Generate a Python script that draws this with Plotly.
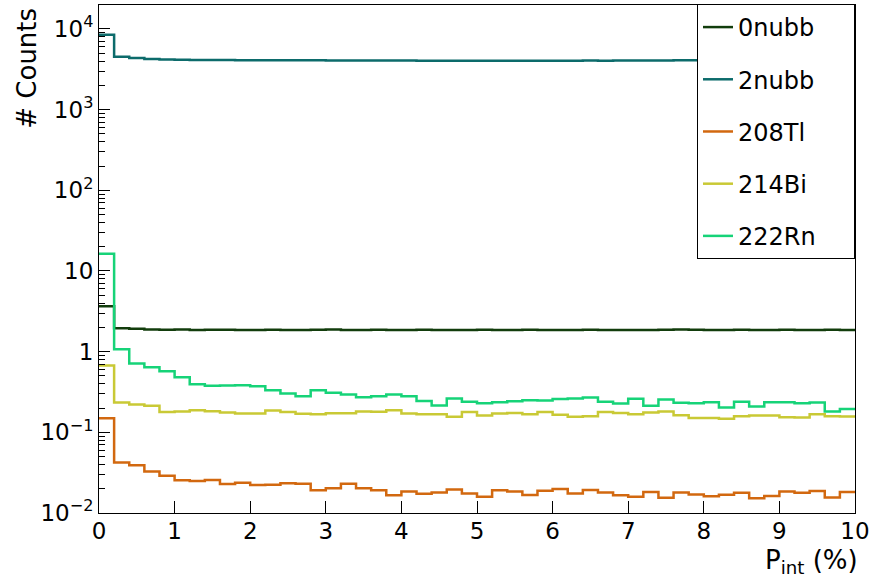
import numpy as np
import plotly.graph_objects as go

# ---- data (50 bins of 0.2 % width, 0-10 %) ----
bin_lo = 0.0
bin_hi = 10.0
n_bins = 50

series_names = ["0nubb", "2nubb", "208Tl", "214Bi", "222Rn"]
series_colors = ["#123d0c", "#0c6b6b", "#d2680f", "#c9c935", "#16d378"]

counts_0nubb = [3.65, 1.95, 1.92, 1.88, 1.87, 1.88, 1.86, 1.87, 1.87, 1.86,
                1.86, 1.87, 1.86, 1.86, 1.87, 1.88, 1.86, 1.86, 1.87, 1.86,
                1.86, 1.87, 1.86, 1.85, 1.86, 1.87, 1.86, 1.86, 1.87, 1.86,
                1.86, 1.86, 1.87, 1.86, 1.86, 1.85, 1.86, 1.87, 1.88, 1.87,
                1.86, 1.86, 1.87, 1.86, 1.86, 1.87, 1.86, 1.86, 1.87, 1.86]
counts_2nubb = [8500, 4530, 4360, 4240, 4180, 4150, 4130, 4120, 4110, 4100,
                4100, 4090, 4090, 4080, 4080, 4070, 4070, 4070, 4060, 4060,
                4060, 4050, 4050, 4050, 4050, 4040, 4040, 4050, 4050, 4040,
                4050, 4050, 4060, 4050, 4060, 4060, 4070, 4070, 4080, 4080,
                4090, 4090, 4100, 4100, 4100, 4110, 4100, 4100, 4090, 4090]
counts_208Tl = [0.149, 0.0424, 0.0392, 0.0328, 0.0290, 0.0254, 0.0249, 0.0256, 0.0229, 0.0237,
                0.0222, 0.0224, 0.0233, 0.0230, 0.0191, 0.0202, 0.0230, 0.0202, 0.0192, 0.0166,
                0.0185, 0.0173, 0.0179, 0.0195, 0.0175, 0.0159, 0.0191, 0.0185, 0.0167, 0.0189,
                0.0198, 0.0175, 0.0193, 0.0179, 0.0166, 0.0159, 0.0182, 0.0155, 0.0180, 0.0170,
                0.0161, 0.0168, 0.0178, 0.0152, 0.0163, 0.0185, 0.0178, 0.0187, 0.0156, 0.0182]
counts_214Bi = [0.673, 0.234, 0.221, 0.213, 0.179, 0.181, 0.188, 0.182, 0.176, 0.171,
                0.171, 0.186, 0.179, 0.170, 0.168, 0.172, 0.172, 0.181, 0.180, 0.188,
                0.171, 0.168, 0.167, 0.156, 0.178, 0.162, 0.171, 0.174, 0.168, 0.178,
                0.165, 0.156, 0.158, 0.178, 0.174, 0.167, 0.176, 0.181, 0.163, 0.150,
                0.150, 0.147, 0.158, 0.162, 0.162, 0.154, 0.153, 0.168, 0.158, 0.157]
counts_222Rn = [16.4, 1.07, 0.713, 0.641, 0.571, 0.482, 0.395, 0.377, 0.380, 0.383,
                0.372, 0.333, 0.303, 0.281, 0.333, 0.310, 0.294, 0.272, 0.281, 0.294,
                0.281, 0.245, 0.215, 0.263, 0.239, 0.230, 0.236, 0.243, 0.250, 0.248,
                0.258, 0.263, 0.270, 0.239, 0.228, 0.260, 0.213, 0.255, 0.232, 0.230,
                0.236, 0.203, 0.239, 0.209, 0.236, 0.236, 0.230, 0.234, 0.181, 0.194]

x_tick_vals = [0, 1, 2, 3, 4, 5, 6, 7, 8, 9, 10]
x_tick_text = ["0", "1", "2", "3", "4", "5", "6", "7", "8", "9", "10"]
y_tick_vals = [0.01, 0.1, 1, 10, 100, 1000, 10000]
y_tick_text = ["10<sup>\u22122</sup>", "10<sup>\u22121</sup>", "1", "10",
               "10<sup>2</sup>", "10<sup>3</sup>", "10<sup>4</sup>"]
x_title = "P<sub>int</sub> (%)"
y_title = "# Counts"

all_counts = [counts_0nubb, counts_2nubb, counts_208Tl, counts_214Bi, counts_222Rn]

# ---- figure ----
W, H = 874, 583
ML, MR, MT, MB = 99, 17, 4, 70
FONT = "DejaVu Sans, Liberation Sans, Arial, sans-serif"
PAD = "\u00a0" * 4 + "\u200a"

edges = np.linspace(bin_lo, bin_hi, n_bins + 1)

fig = go.Figure()
for name, color, vals in zip(series_names, series_colors, all_counts):
    y_step = list(vals) + [vals[-1]]
    fig.add_trace(go.Scatter(
        x=edges, y=y_step, mode="lines", name=name + PAD,
        line=dict(color=color, width=2.5, shape="hv"),
        legendgroup=name, hoverinfo="skip",
    ))

fig.update_layout(
    width=W, height=H,
    margin=dict(l=ML, r=MR, t=MT, b=MB, pad=0),
    paper_bgcolor="white", plot_bgcolor="white",
    font=dict(family=FONT, size=23, color="black"),
    showlegend=True,
    legend=dict(
        x=1, xanchor="right", y=1.002, yanchor="top",
        bgcolor="white", bordercolor="black", borderwidth=1,
        font=dict(family=FONT, size=24, color="black"),
        tracegroupgap=18, itemwidth=30,
    ),
    xaxis=dict(
        range=[bin_lo, bin_hi], showgrid=False, zeroline=False,
        showline=True, linecolor="black", linewidth=1, mirror=True,
        ticks="inside", ticklen=12, tickcolor="black", tickwidth=1,
        tickvals=x_tick_vals, ticktext=x_tick_text,
        tickfont=dict(family=FONT, size=23),
        ticklabelstandoff=-3,
    ),
    yaxis=dict(
        type="log", range=[-2, 4.297], showgrid=False, zeroline=False,
        showline=True, linecolor="black", linewidth=1, mirror=True,
        ticks="inside", ticklen=11, tickcolor="black", tickwidth=1,
        tickvals=y_tick_vals, ticktext=y_tick_text,
        tickfont=dict(family=FONT, size=23),
        minor=dict(ticks="inside", ticklen=6, tickcolor="black", dtick="D1", showgrid=False),
    ),
)

pw = W - ML - MR
ph = H - MT - MB
fig.add_annotation(
    text=x_title, xref="paper", yref="paper",
    x=1 + 5 / pw, xanchor="right", y=-(543 - (H - MB)) / ph, yanchor="top",
    showarrow=False, font=dict(family=FONT, size=26, color="black"),
)
fig.add_annotation(
    text=y_title, xref="paper", yref="paper", textangle=-90,
    x=-(ML - 10) / pw, xanchor="left", y=1 - 1 / ph, yanchor="top",
    showarrow=False, font=dict(family=FONT, size=26, color="black"),
)

fig.write_html("out.html", config={"displayModeBar": False},
               post_script="document.body.style.margin='0px';")
